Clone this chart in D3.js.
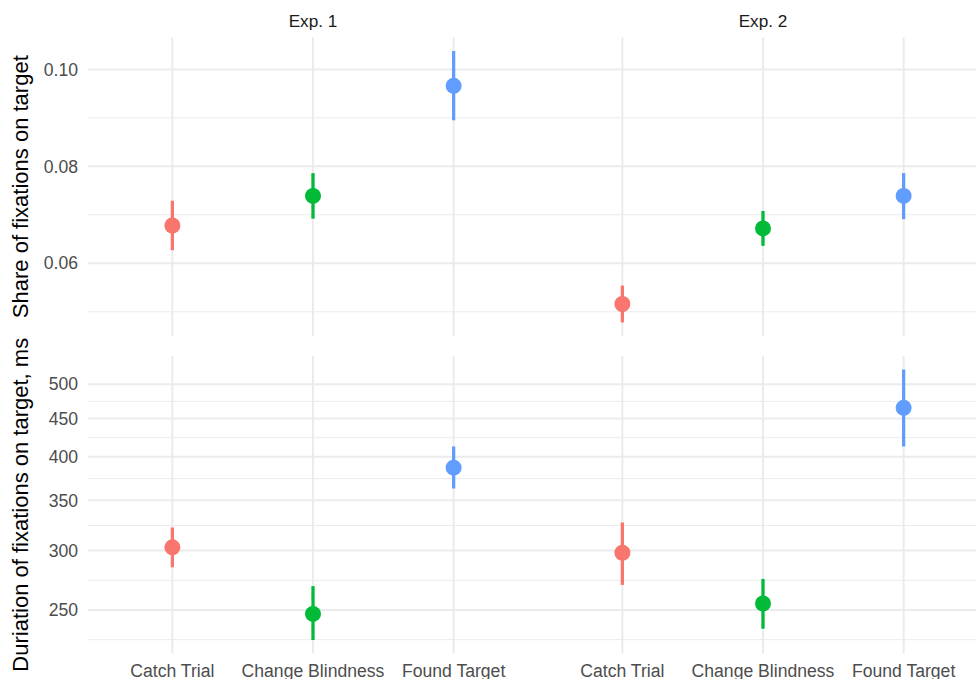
<!DOCTYPE html>
<html>
<head>
<meta charset="utf-8">
<script src="https://cdn.jsdelivr.net/npm/d3@7/dist/d3.min.js"></script>
<style>
  html, body { margin: 0; padding: 0; background: #ffffff; }
  svg { display: block; font-family: "Liberation Sans", Arial, sans-serif; }
</style>
</head>
<body>
<svg id="chart" width="976" height="679"></svg>
<script>
// Conditions on the x axis and the two experiment facets
const categories = ["Catch Trial", "Change Blindness", "Found Target"];
const experiments = ["Exp. 1", "Exp. 2"];
const colors = ["#F8766D", "#00BA38", "#619CFF"];

// Share of fixations on target: mean and interval, per experiment x condition
const shareMean  = [[0.0678, 0.0739, 0.0966], [0.0516, 0.0672, 0.0739]];
const shareLower = [[0.0627, 0.0692, 0.0895], [0.0478, 0.0636, 0.0691]];
const shareUpper = [[0.0729, 0.0786, 0.1038], [0.0554, 0.0708, 0.0786]];
const shareTicks = [0.06, 0.08, 0.10];

// Duration of fixations on target (ms): mean and interval
const durMean  = [[303, 247, 387], [298, 255, 465]];
const durLower = [[285, 228, 363], [270, 236, 413]];
const durUpper = [[322, 269, 413], [327, 275, 523]];
const durTicks = [250, 300, 350, 400, 450, 500];

const yTitles = ["Share of fixations on target", "Duriation of fixations on target, ms"];

const svg = d3.select("#chart");
const gridColor = "#ebebeb";
const axisFont = 17.6;

// Facet geometry
const facetX = [[88, 538], [538, 988]];
const rows = [
  { top: 37.4, bottom: 336, mean: shareMean, lower: shareLower, upper: shareUpper,
    ticks: shareTicks, log: false, fmt: d3.format(".2f"), title: yTitles[0] },
  { top: 356, bottom: 653.5, mean: durMean, lower: durLower, upper: durUpper,
    ticks: durTicks, log: true, fmt: d3.format("d"), title: yTitles[1] }
];

// Domain padded by 5% on each side (in transformed space for the log scale)
function paddedDomain(lo, hi, log) {
  if (log) {
    const a = Math.log(lo), b = Math.log(hi), e = (b - a) * 0.05;
    return [Math.exp(a - e), Math.exp(b + e)];
  }
  const e = (hi - lo) * 0.05;
  return [lo - e, hi + e];
}

// Minor breaks halfway between majors, extending one step below/above
function minorBreaks(ticks, domain, log) {
  const f = log ? Math.log : (v => v);
  const inv = log ? Math.exp : (v => v);
  const b = ticks.map(f);
  const bd = b[1] - b[0];
  const ext = [b[0] - bd, ...b, b[b.length - 1] + bd];
  const out = [];
  for (let i = 0; i < ext.length - 1; i++) out.push(inv((ext[i] + ext[i + 1]) / 2));
  return out.filter(v => v >= domain[0] && v <= domain[1]);
}

rows.forEach((row, ri) => {
  const lo = d3.min(row.lower.flat()), hi = d3.max(row.upper.flat());
  const domain = paddedDomain(lo, hi, row.log);
  const y = (row.log ? d3.scaleLog() : d3.scaleLinear())
    .domain(domain).range([row.bottom, row.top]);
  const minors = minorBreaks(row.ticks, domain, row.log);

  const g = svg.append("g");

  // horizontal grid lines spanning both facets
  g.selectAll("line.minor").data(minors).join("line")
    .attr("x1", facetX[0][0]).attr("x2", facetX[1][1])
    .attr("y1", d => y(d)).attr("y2", d => y(d))
    .attr("stroke", gridColor).attr("stroke-width", 1);
  g.selectAll("line.major").data(row.ticks).join("line")
    .attr("x1", facetX[0][0]).attr("x2", facetX[1][1])
    .attr("y1", d => y(d)).attr("y2", d => y(d))
    .attr("stroke", gridColor).attr("stroke-width", 2);

  // y tick labels
  g.selectAll("text.tick").data(row.ticks).join("text")
    .attr("x", 78).attr("y", d => y(d)).attr("dy", "0.35em")
    .attr("text-anchor", "end").attr("font-size", axisFont).attr("fill", "#4d4d4d")
    .text(d => row.fmt(d));

  // y axis title
  svg.append("text")
    .attr("transform", `translate(28,${(row.top + row.bottom) / 2}) rotate(-90)`)
    .attr("text-anchor", "middle").attr("font-size", 22).attr("fill", "#000000")
    .text(row.title);

  experiments.forEach((exp, ei) => {
    const x = d3.scalePoint().domain(categories).range(facetX[ei]).padding(0.6);
    const pg = g.append("g");

    // vertical grid lines at each condition
    pg.selectAll("line.vgrid").data(categories).join("line")
      .attr("x1", d => x(d)).attr("x2", d => x(d))
      .attr("y1", row.top).attr("y2", row.bottom)
      .attr("stroke", gridColor).attr("stroke-width", 2);

    const data = categories.map((c, ci) => ({
      c, ci, m: row.mean[ei][ci], lo: row.lower[ei][ci], hi: row.upper[ei][ci]
    }));

    // interval bars
    pg.selectAll("line.range").data(data).join("line")
      .attr("x1", d => x(d.c)).attr("x2", d => x(d.c))
      .attr("y1", d => y(d.lo)).attr("y2", d => y(d.hi))
      .attr("stroke", d => colors[d.ci]).attr("stroke-width", 3.3)
      .attr("stroke-linecap", "butt");

    // mean points
    pg.selectAll("circle").data(data).join("circle")
      .attr("cx", d => x(d.c)).attr("cy", d => y(d.m)).attr("r", 8)
      .attr("fill", d => colors[d.ci]);

    // facet strip label on the top row
    if (ri === 0) {
      svg.append("text")
        .attr("x", (facetX[ei][0] + facetX[ei][1]) / 2).attr("y", 26.5)
        .attr("text-anchor", "middle").attr("font-size", 17.2).attr("fill", "#1a1a1a")
        .text(exp);
    }
    // condition labels under the bottom row
    if (ri === 1) {
      svg.append("g").selectAll("text").data(categories).join("text")
        .attr("x", d => x(d)).attr("y", 676.5)
        .attr("text-anchor", "middle").attr("font-size", axisFont).attr("fill", "#4d4d4d")
        .text(d => d);
    }
  });
});
</script>
</body>
</html>
